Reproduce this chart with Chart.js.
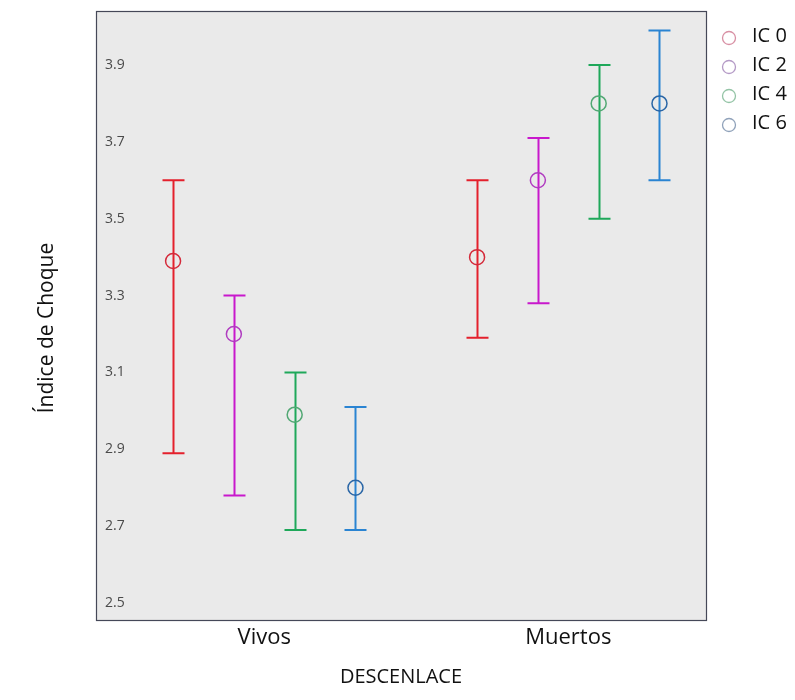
<!DOCTYPE html>
<html>
<head>
<meta charset="utf-8">
<script src="https://cdn.jsdelivr.net/npm/chart.js@4.4.1/dist/chart.umd.min.js"></script>
<style>
  html, body { margin: 0; padding: 0; background: #ffffff; }
  #wrap { width: 795px; height: 700px; position: relative; }
</style>
</head>
<body>
<div id="wrap"><canvas id="c" width="795" height="700"></canvas></div>
<script>
// Outcome groups on the x axis
const categories = ['Vivos', 'Muertos'];
// Series (shock index cut-offs)
const seriesNames = ['IC 0', 'IC 2', 'IC 4', 'IC 6'];
// Means per series, one value per outcome group
const meanIC0 = [3.39, 3.40];
const meanIC2 = [3.20, 3.60];
const meanIC4 = [2.99, 3.80];
const meanIC6 = [2.80, 3.80];
// Lower ends of the error bars
const lowIC0 = [2.89, 3.19];
const lowIC2 = [2.78, 3.28];
const lowIC4 = [2.69, 3.50];
const lowIC6 = [2.69, 3.60];
// Upper ends of the error bars
const highIC0 = [3.60, 3.60];
const highIC2 = [3.30, 3.71];
const highIC4 = [3.10, 3.90];
const highIC6 = [3.01, 3.99];
// Y axis tick labels
const yTicks = [2.5, 2.7, 2.9, 3.1, 3.3, 3.5, 3.7, 3.9];

const means = [meanIC0, meanIC2, meanIC4, meanIC6];
const lows = [lowIC0, lowIC2, lowIC4, lowIC6];
const highs = [highIC0, highIC2, highIC4, highIC6];

const lineColors = ['#e4202c', '#c818cc', '#1fa85a', '#2a84d2'];
const markColors = ['#d42a3a', '#b03cc0', '#52a874', '#2a66a6'];
const legendColors = ['#d890a4', '#b49ac6', '#94c4a6', '#90a2ba'];
const dodge = [-0.3, -0.1, 0.1, 0.3];

const FONT = "'Open Sans', 'DejaVu Sans', sans-serif";

const datasets = seriesNames.map((name, s) => ({
  label: name,
  data: categories.map((c, g) => ({ x: g + dodge[s], y: means[s][g], lo: lows[s][g], hi: highs[s][g] })),
  showLine: false,
  pointStyle: 'circle',
  pointRadius: 7.5,
  pointHoverRadius: 7.5,
  pointBorderWidth: 1.5,
  pointBorderColor: markColors[s],
  pointBackgroundColor: 'rgba(0,0,0,0)',
  errColor: lineColors[s]
}));

// Plot panel background and frame
const panelPlugin = {
  id: 'panel',
  beforeDraw(chart) {
    const { ctx, chartArea: a } = chart;
    ctx.save();
    ctx.fillStyle = '#eaeaea';
    ctx.fillRect(a.left, a.top, a.right - a.left, a.bottom - a.top);
    ctx.restore();
  },
  afterDraw(chart) {
    const { ctx, chartArea: a } = chart;
    ctx.save();
    ctx.strokeStyle = '#454858';
    ctx.lineWidth = 1.2;
    ctx.strokeRect(a.left + 0.5, a.top + 0.5, a.right - a.left, a.bottom - a.top);
    ctx.restore();
  }
};

// Vertical error bars with caps, drawn from each point's lo/hi values
const errorBarPlugin = {
  id: 'errorBars',
  beforeDatasetsDraw(chart) {
    const { ctx, scales: { x, y } } = chart;
    ctx.save();
    chart.data.datasets.forEach(ds => {
      ctx.strokeStyle = ds.errColor;
      ctx.lineWidth = 2;
      ds.data.forEach(p => {
        const px = Math.round(x.getPixelForValue(p.x)) + 0.5;
        const yl = y.getPixelForValue(p.lo);
        const yh = y.getPixelForValue(p.hi);
        ctx.beginPath();
        ctx.moveTo(px, yl);
        ctx.lineTo(px, yh);
        ctx.moveTo(px - 11, yh);
        ctx.lineTo(px + 11, yh);
        ctx.moveTo(px - 11, yl);
        ctx.lineTo(px + 11, yl);
        ctx.stroke();
      });
    });
    ctx.restore();
  }
};

// Legend to the right of the panel and rotated y title
const sideTextPlugin = {
  id: 'sideText',
  afterDraw(chart) {
    const { ctx } = chart;
    ctx.save();
    chart.data.datasets.forEach((ds, i) => {
      const cy = 38 + i * 29;
      ctx.beginPath();
      ctx.strokeStyle = legendColors[i];
      ctx.lineWidth = 1.3;
      ctx.arc(729, cy, 6.5, 0, Math.PI * 2);
      ctx.stroke();
      ctx.fillStyle = '#111111';
      ctx.font = '20px ' + FONT;
      ctx.textAlign = 'left';
      ctx.textBaseline = 'middle';
      ctx.fillText(ds.label, 752, cy - 2);
    });
    ctx.translate(47, 328);
    ctx.rotate(-Math.PI / 2);
    ctx.fillStyle = '#111111';
    ctx.font = '21px ' + FONT;
    ctx.textAlign = 'center';
    ctx.textBaseline = 'middle';
    ctx.fillText('Índice de Choque', 0, 0);
    ctx.restore();
  }
};

new Chart(document.getElementById('c'), {
  type: 'scatter',
  data: { datasets },
  options: {
    responsive: false,
    animation: false,
    layout: { padding: { top: 11, right: 89, left: 0, bottom: 0 } },
    plugins: { legend: { display: false }, tooltip: { enabled: false } },
    scales: {
      x: {
        type: 'linear',
        min: -0.5535,
        max: 1.453,
        grid: { display: false, drawTicks: false },
        border: { display: false },
        afterBuildTicks: scale => { scale.ticks = categories.map((c, i) => ({ value: i })); },
        afterFit: scale => { scale.height = 80; scale.paddingLeft = 0; scale.paddingRight = 0; },
        ticks: {
          autoSkip: false,
          maxRotation: 0,
          padding: 5,
          color: '#111111',
          font: { family: FONT, size: 22 },
          callback: v => categories[v]
        },
        title: {
          display: true,
          text: 'DESCENLACE',
          color: '#111111',
          font: { family: FONT, size: 20 },
          padding: { top: 0, bottom: 11 }
        }
      },
      y: {
        type: 'linear',
        min: 2.4558,
        max: 4.0405,
        grid: { display: false, drawTicks: false },
        border: { display: false },
        afterBuildTicks: scale => { scale.ticks = yTicks.map(v => ({ value: v })); },
        afterFit: scale => { scale.width = 96; scale.paddingTop = 0; scale.paddingBottom = 0; },
        ticks: {
          mirror: true,
          padding: 9,
          color: '#4a4a4a',
          font: { family: FONT, size: 14 },
          callback: v => v.toFixed(1)
        }
      }
    }
  },
  plugins: [panelPlugin, errorBarPlugin, sideTextPlugin]
});
</script>
</body>
</html>
